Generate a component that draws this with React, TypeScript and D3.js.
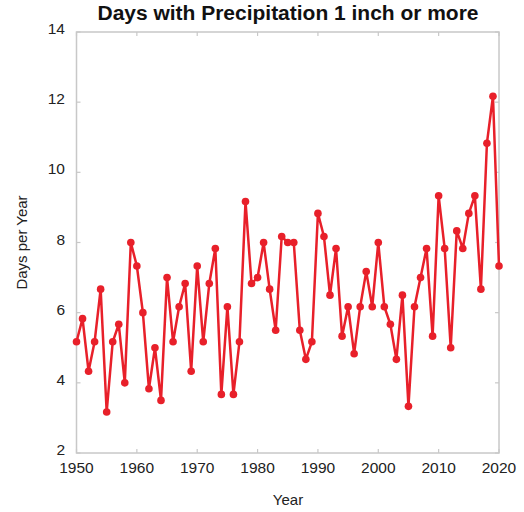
import React from "react";
import * as d3 from "d3";

const years: number[] = d3.range(1950, 2021);
const days: number[] = [
  5.17, 5.83, 4.33, 5.17, 6.67, 3.17, 5.17, 5.67, 4.0, 8.0,
  7.33, 6.0, 3.83, 5.0, 3.5, 7.0, 5.17, 6.17, 6.83, 4.33,
  7.33, 5.17, 6.83, 7.83, 3.67, 6.17, 3.67, 5.17, 9.17, 6.83,
  7.0, 8.0, 6.67, 5.5, 8.17, 8.0, 8.0, 5.5, 4.67, 5.17,
  8.83, 8.17, 6.5, 7.83, 5.33, 6.17, 4.83, 6.17, 7.17, 6.17,
  8.0, 6.17, 5.67, 4.67, 6.5, 3.33, 6.17, 7.0, 7.83, 5.33,
  9.33, 7.83, 5.0, 8.33, 7.83, 8.83, 9.33, 6.67, 10.83, 12.17,
  7.33,
];
const xTicks: number[] = [1950, 1960, 1970, 1980, 1990, 2000, 2010, 2020];
const yTicks: number[] = [2, 4, 6, 8, 10, 12, 14];
const title = "Days with Precipitation 1 inch or more";
const xLabel = "Year";
const yLabel = "Days per Year";

export default function App() {
  const W = 524, H = 512;
  const L = 76.5, R = 499, T = 32, B = 453;
  const x = d3.scaleLinear().domain([1950, 2020]).range([L, R]);
  const y = d3.scaleLinear().domain([2, 14]).range([B, T]);
  const pts = years.map((yr, i) => [yr, days[i]] as [number, number]);
  const line = d3.line<[number, number]>().x(d => x(d[0])).y(d => y(d[1]));
  const axisColor = "#c8c8c8";
  const textColor = "#222";
  const red = "#e8202a";
  const font = "Liberation Sans, Arial, Helvetica, sans-serif";
  const tl = 4;
  return (
    <svg width={W} height={H} style={{ position: "absolute", left: 0, top: 0, background: "#fff" }} fontFamily={font}>
      <text x={288} y={20} textAnchor="middle" fontWeight="bold" fontSize={20} textLength={381} lengthAdjust="spacingAndGlyphs" fill="#111">{title}</text>
      <rect x={L} y={T} width={R - L} height={B - T} fill="none" stroke={axisColor} strokeWidth={1.5} />
      {xTicks.map(t => (
        <g key={"x" + t}>
          <line x1={x(t)} x2={x(t)} y1={B} y2={B - tl} stroke={axisColor} strokeWidth={1.2} />
          <line x1={x(t)} x2={x(t)} y1={T} y2={T + tl} stroke={axisColor} strokeWidth={1.2} />
          <text x={x(t)} y={473} textAnchor="middle" fontSize={15.5} fill={textColor}>{t}</text>
        </g>
      ))}
      {yTicks.map(t => (
        <g key={"y" + t}>
          <line x1={L} x2={L + tl} y1={y(t)} y2={y(t)} stroke={axisColor} strokeWidth={1.2} />
          <line x1={R} x2={R - tl} y1={y(t)} y2={y(t)} stroke={axisColor} strokeWidth={1.2} />
          <text x={65} y={y(t) - 2} textAnchor="end" dominantBaseline="middle" fontSize={15.5} fill={textColor}>{t}</text>
        </g>
      ))}
      <text x={288} y={505} textAnchor="middle" fontSize={15} fill={textColor}>{xLabel}</text>
      <text transform={`translate(27,${(T + B) / 2}) rotate(-90)`} textAnchor="middle" fontSize={15} fill={textColor}>{yLabel}</text>
      <path d={line(pts) || ""} fill="none" stroke={red} strokeWidth={2.5} strokeLinejoin="round" />
      {pts.map((p, i) => (
        <circle key={i} cx={x(p[0])} cy={y(p[1])} r={3.8} fill={red} />
      ))}
    </svg>
  );
}
